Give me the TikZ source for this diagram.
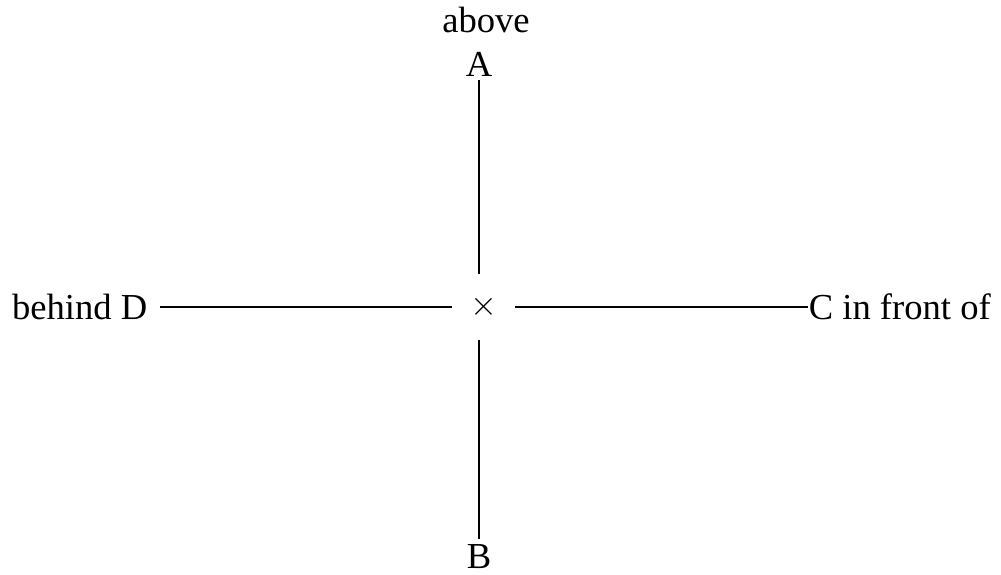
\documentclass[tikz,border=0pt]{standalone}
\usepackage{fontspec}
\setmainfont{Liberation Serif}
\usetikzlibrary{arrows.meta,positioning}

\begin{document}
\begin{tikzpicture}[x=0.5pt,y=-0.5pt,line width=0.8pt,
  every node/.style={font=\fontsize{18.3}{22}\selectfont}]
\useasboundingbox (0,0) rectangle (1001,574);
\node[minimum width=30.5pt,minimum height=32pt,inner sep=0pt] (X) at (483.5,307) {$\times$};
\node[anchor=south,inner sep=1.5pt] (A) at (479,80) {A};
\node[above=4pt of A,xshift=3.5pt] (abv) {above};
\node[anchor=north,inner ysep=1pt,inner xsep=3pt] (B) at (479,542) {B};
\node[anchor=east,inner xsep=6pt] (D) at (160,307) {behind D};
\node[anchor=west,inner xsep=0pt] (C) at (808,307) {C in front of};
\draw (A.south) -- (A.south |- X.north);
\draw[shorten <=1.5pt] (B.north) -- (B.north |- X.south);
\draw (D) -- (X);
\draw (X) -- (C);
\end{tikzpicture}
\end{document}
